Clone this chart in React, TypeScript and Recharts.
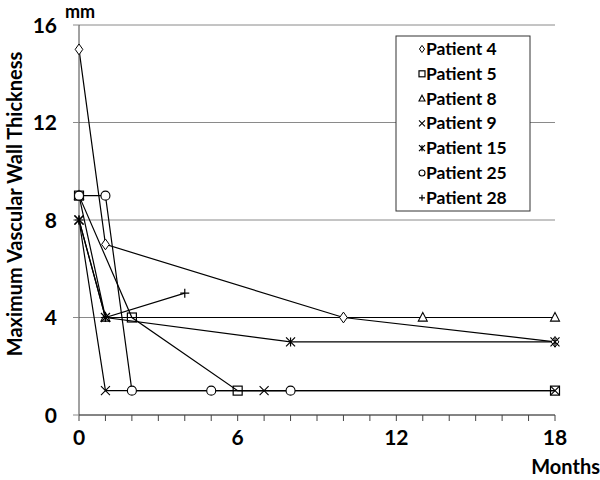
import React from 'react';
import { LineChart, Line, XAxis, YAxis, CartesianGrid } from 'recharts';

const seriesNames = ['Patient 4', 'Patient 5', 'Patient 8', 'Patient 9', 'Patient 15', 'Patient 25', 'Patient 28'];
const markers = ['diamond', 'square', 'triangle', 'x', 'asterisk', 'circle', 'plus'];

const p4Months = [0, 1, 10, 18];
const p4Values = [15, 7, 4, 3];
const p5Months = [0, 2, 6, 18];
const p5Values = [9, 4, 1, 1];
const p8Months = [0, 1, 13, 18];
const p8Values = [9, 4, 4, 4];
const p9Months = [0, 1, 7, 18];
const p9Values = [8, 1, 1, 1];
const p15Months = [0, 1, 8, 18];
const p15Values = [8, 4, 3, 3];
const p25Months = [0, 1, 2, 5, 8];
const p25Values = [9, 9, 1, 1, 1];
const p28Months = [0, 1, 4];
const p28Values = [8, 4, 5];

const monthsList = [p4Months, p5Months, p8Months, p9Months, p15Months, p25Months, p28Months];
const valuesList = [p4Values, p5Values, p8Values, p9Values, p15Values, p25Values, p28Values];

const xTicks = Array.from({ length: 19 }, (_, i) => i);
const xLabels = [0, 6, 12, 18];
const yTicks = [0, 4, 8, 12, 16];

const FONT = 'Lato, "Open Sans", sans-serif';

function markerPath(kind: string, cx: number, cy: number, s: number): React.ReactNode {
  const h = s / 2;
  switch (kind) {
    case 'diamond':
      return <path d={`M${cx},${cy - h * 1.2} L${cx + h * 0.85},${cy} L${cx},${cy + h * 1.2} L${cx - h * 0.85},${cy} Z`} fill="#fff" stroke="#000" strokeWidth={1} />;
    case 'square':
      return <rect x={cx - h} y={cy - h} width={s} height={s} fill="none" stroke="#000" strokeWidth={1.2} />;
    case 'triangle':
      return <path d={`M${cx},${cy - h * 1.1} L${cx + h},${cy + h * 0.8} L${cx - h},${cy + h * 0.8} Z`} fill="#fff" stroke="#000" strokeWidth={1.1} />;
    case 'x':
      return <path d={`M${cx - h},${cy - h} L${cx + h},${cy + h} M${cx - h},${cy + h} L${cx + h},${cy - h}`} stroke="#000" strokeWidth={1.1} fill="none" />;
    case 'asterisk':
      return <path d={`M${cx - h},${cy - h} L${cx + h},${cy + h} M${cx - h},${cy + h} L${cx + h},${cy - h} M${cx},${cy - h} L${cx},${cy + h}`} stroke="#000" strokeWidth={1.2} fill="none" />;
    case 'circle':
      return <circle cx={cx} cy={cy} r={h} fill="#fff" stroke="#000" strokeWidth={1.1} />;
    case 'plus':
      return <path d={`M${cx - h},${cy} L${cx + h},${cy} M${cx},${cy - h} L${cx},${cy + h}`} stroke="#000" strokeWidth={1.2} fill="none" />;
    default:
      return null;
  }
}

const makeDot = (kind: string) => (props: any) => {
  const { cx, cy, index } = props;
  if (cx == null || cy == null) return <g key={`e-${index}`} />;
  return <g key={`${kind}-${index}`}>{markerPath(kind, cx, cy, 9)}</g>;
};

const LEG_X = 396;
const LEG_Y = 36;
const LEG_W = 134;
const LEG_H = 175;
const ROW_0 = 49;
const ROW_STEP = 24.8;

const XTick = (props: any) => {
  const { x, y, payload } = props;
  if (!xLabels.includes(payload.value)) return <g />;
  return (
    <text x={x} y={y + 22} textAnchor="middle" fontFamily={FONT} fontWeight={700} fontSize={21} fill="#000">
      {payload.value}
    </text>
  );
};

const YTick = (props: any) => {
  const { y, payload } = props;
  return (
    <text x={57} y={y + 7.5} textAnchor="end" fontFamily={FONT} fontWeight={700} fontSize={21} fill="#000">
      {payload.value}
    </text>
  );
};

export default function App() {
  return (
    <div style={{ position: 'absolute', left: 0, top: 0, width: 600, height: 480, background: '#fff' }}>
      <LineChart width={600} height={480} margin={{ top: 25, right: 45, bottom: 35, left: 29 }}>
        <CartesianGrid horizontal vertical={false} stroke="#8a8a8a" strokeWidth={1} />
        <XAxis
          type="number"
          dataKey="x"
          domain={[0, 18]}
          ticks={xTicks}
          interval={0}
          tick={<XTick />}
          tickSize={6}
          height={30}
          axisLine={{ stroke: '#444' }}
          tickLine={{ stroke: '#444' }}
          allowDuplicatedCategory={false}
        />
        <YAxis
          type="number"
          domain={[0, 16]}
          ticks={yTicks}
          interval={0}
          tick={<YTick />}
          tickSize={6}
          width={50}
          axisLine={{ stroke: '#444' }}
          tickLine={{ stroke: '#8a8a8a' }}
        />
        {seriesNames.map((name, i) => (
          <Line
            key={name}
            name={name}
            data={monthsList[i].map((m, j) => ({ x: m, y: valuesList[i][j] }))}
            dataKey="y"
            type="linear"
            stroke="#000"
            strokeWidth={1.2}
            dot={makeDot(markers[i])}
            activeDot={false}
            isAnimationActive={false}
            legendType="none"
          />
        ))}
        <g>
          <rect x={LEG_X} y={LEG_Y} width={LEG_W} height={LEG_H} fill="#fff" stroke="#333" strokeWidth={1} />
          {seriesNames.map((name, i) => (
            <g key={name}>
              {markerPath(markers[i], 422, ROW_0 + i * ROW_STEP, 6)}
              <text x={426} y={ROW_0 + i * ROW_STEP + 6} fontFamily={FONT} fontWeight={700} fontSize={17.5} fill="#000">
                {name}
              </text>
            </g>
          ))}
        </g>
        <text x={65} y={18} fontFamily={FONT} fontWeight={700} fontSize={18} fill="#000">mm</text>
        <text x={600} y={474} textAnchor="end" fontFamily={FONT} fontWeight={700} fontSize={20} fill="#000">Months</text>
        <text
          x={0}
          y={0}
          transform="translate(22,204) rotate(-90)"
          textAnchor="middle"
          fontFamily={FONT}
          fontWeight={700}
          fontSize={20}
          fill="#000"
        >
          Maximum Vascular Wall Thickness
        </text>
      </LineChart>
    </div>
  );
}
